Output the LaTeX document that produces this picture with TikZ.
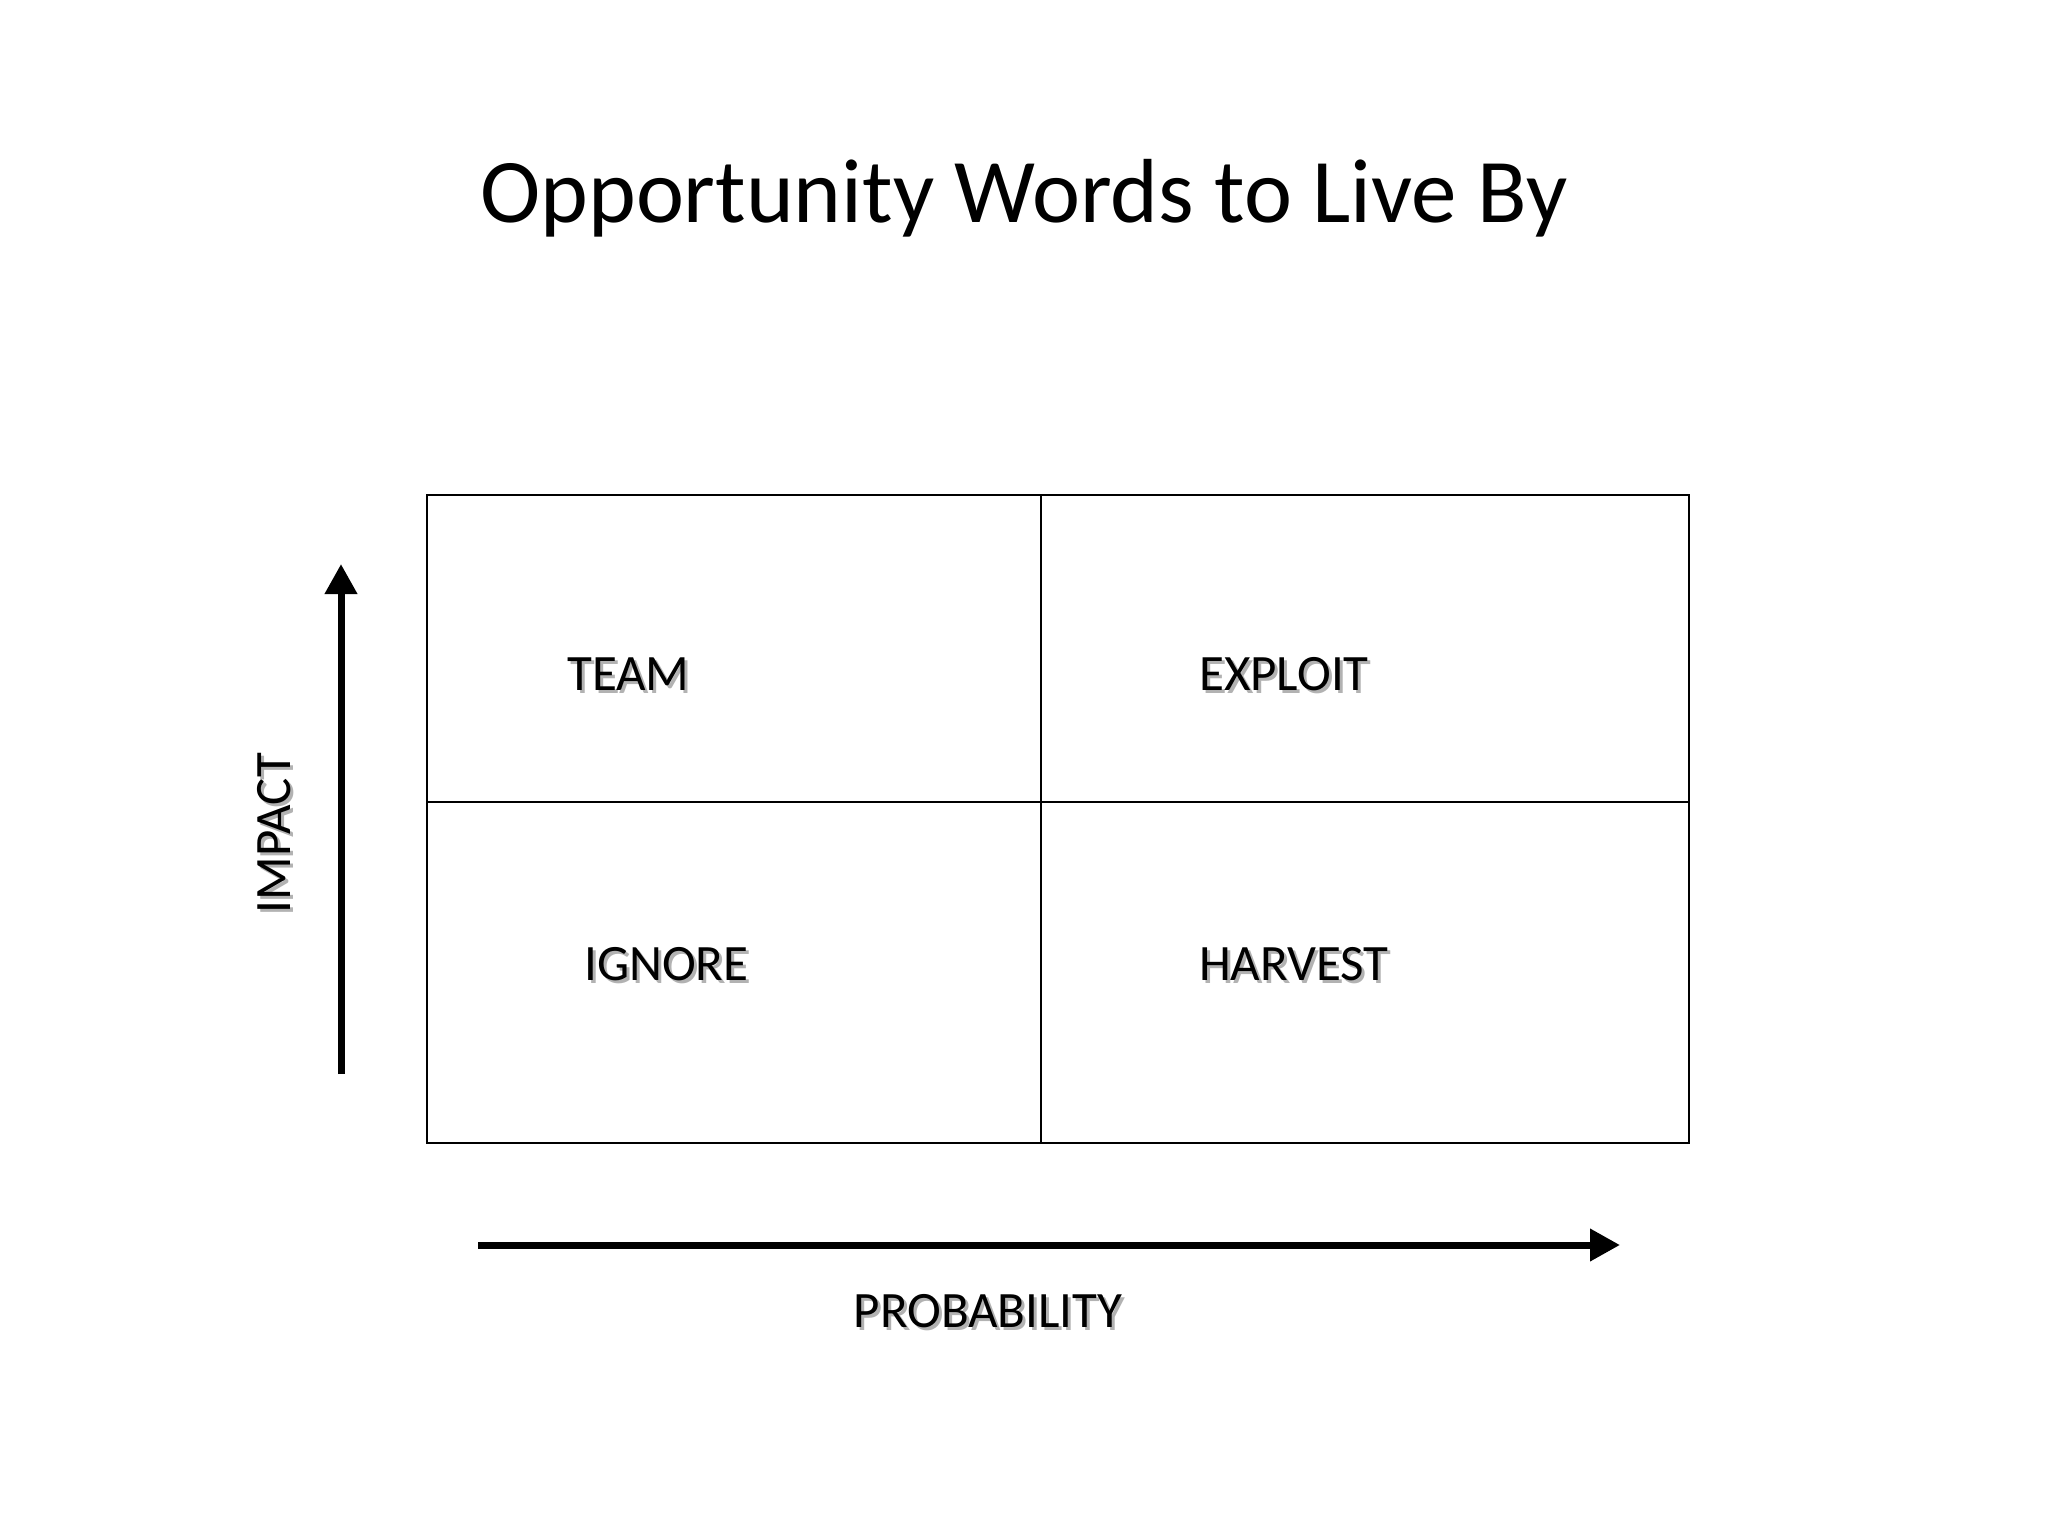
\documentclass[tikz,border=0pt]{standalone}
\usepackage{fontspec}
\setmainfont{Carlito}
\usetikzlibrary{arrows.meta}
\begin{document}
\begin{tikzpicture}[x=1pt,y=-1pt,
  lbl/.style={font=\fontsize{51}{60}\selectfont, inner sep=0pt},
  shadow/.style={lbl, text=black!30},
  grid/.style={line width=2.6pt, black},
  axis/.style={line width=7pt, -{Triangle[length=30pt,width=31pt]}}]
\useasboundingbox[fill=white] (0,0) rectangle (2048,1536);
% title
\node[font=\fontsize{91}{100}\selectfont, anchor=base, inner sep=0pt] (title) at (1024,222) {Opportunity Words to Live By};
% grid
\draw[grid] (427,495) rectangle (1689,1143);
\draw[grid] (1041,495) -- (1041,1143);
\draw[grid] (427,802) -- (1689,802);
% labels with shadow
\node[shadow, anchor=west] (teams) at (570,677) {TEAM};
\node[lbl, anchor=west] (team) at (567,674) {TEAM};
\node[shadow, anchor=west] (exploits) at (1202,677) {EXPLOIT};
\node[lbl, anchor=west] (exploit) at (1199,674) {EXPLOIT};
\node[shadow, anchor=west] (ignores) at (587,967) {IGNORE};
\node[lbl, anchor=west] (ignore) at (584,964) {IGNORE};
\node[shadow, anchor=west] (harvests) at (1202,967) {HARVEST};
\node[lbl, anchor=west] (harvest) at (1199,964) {HARVEST};
\node[shadow] (probs) at (991,1314) {PROBABILITY};
\node[lbl] (prob) at (988,1311) {PROBABILITY};
\node[shadow, rotate=90] (impacts) at (277,836) {IMPACT};
\node[lbl, rotate=90] (impact) at (274,833) {IMPACT};
% axes
\coordinate (vs) at (341,1074);
\coordinate (ve) at (341,564);
\coordinate (hs) at (478,1245);
\coordinate (he) at (1620,1245);
\draw[axis] (vs) -- (ve);
\draw[axis] (hs) -- (he);
\end{tikzpicture}
\end{document}
